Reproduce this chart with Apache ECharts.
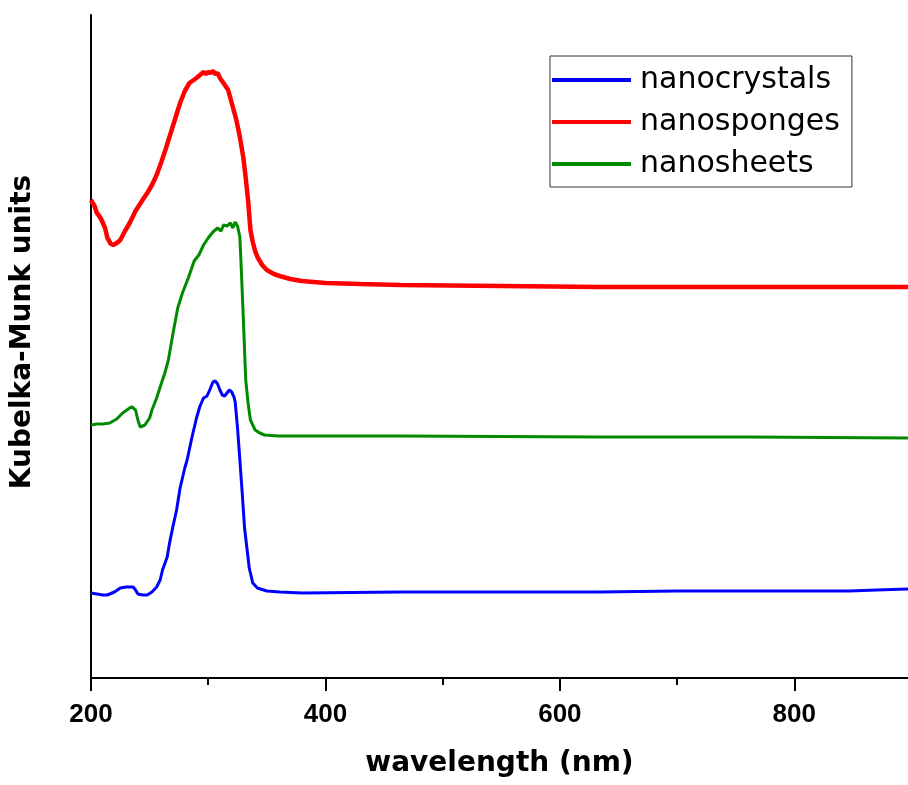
<!DOCTYPE html>
<html>
<head>
<meta charset="utf-8">
<script src="https://cdn.jsdelivr.net/npm/echarts@6/dist/echarts.min.js"></script>
<style>
html,body{margin:0;padding:0;background:#fff;overflow:hidden;}
#chart{width:908px;height:785px;}
</style>
</head>
<body>
<div id="chart"></div>
<script>
// x tick values (nm)
const xTicks = [200, 400, 600, 800];
const xMinorTicks = [300, 500, 700];
const seriesNames = ['nanocrystals', 'nanosponges', 'nanosheets'];

// [wavelength (nm), Kubelka-Munk (arbitrary, offset per curve)]
const nanocrystals = [[200,85],[205,84],[210,83],[214,83],[220,86],[225,90],[230,91],[236,91],[238,88],[240,84],[244,83],[248,83],[252,86],[256,91],[259,98],[261,108],[265,121],[267,135],[270,152],[273,168],[276,190],[280,210],[282,218],[286,240],[290,260],[293,272],[296,280],[299,282],[302,290],[304,296],[306,297],[308,294],[310,288],[312,283],[314,282],[316,285],[318,288],[320,286],[322,281],[323,276],[325,250],[327,218],[329,185],[331,150],[333,130],[335,110],[338,95],[342,90],[350,87],[361,86],[380,85],[464,86],[550,86],[634,86],[700,87],[762,87],[847,87],[870,88],[897,89]];

const nanosponges = [[200,478],[201,478],[203,472],[205,465],[207,462],[209,458],[212,450],[214,440],[217,434],[219,433],[222,435],[225,438],[229,447],[233,455],[238,467],[244,478],[248,485],[252,493],[256,503],[260,516],[264,530],[268,545],[272,560],[276,575],[280,587],[284,595],[290,600],[293,603],[296,606],[298,604],[300,606],[302,605],[304,607],[306,604],[308,605],[310,600],[313,595],[317,588],[321,571],[324,558],[327,541],[330,520],[332,500],[334,478],[336,448],[338,436],[340,427],[342,421],[346,413],[350,408],[356,404],[361,402],[370,399],[380,397],[400,395],[430,394],[464,393],[550,392],[634,391],[760,391],[897,391]];

const nanosheets = [[200,253],[205,254],[210,254],[216,255],[222,259],[227,265],[233,270],[235,271],[238,268],[240,258],[242,251],[246,253],[250,260],[252,268],[256,280],[259,291],[263,305],[266,318],[270,345],[274,370],[278,385],[283,400],[288,417],[292,423],[296,433],[300,440],[304,446],[308,450],[311,447],[313,453],[316,452],[319,455],[321,450],[323,456],[325,452],[327,441],[328,415],[330,358],[332,298],[334,275],[336,258],[340,248],[344,245],[348,243],[360,242],[378,242],[464,242],[634,241],[760,241],[897,240]];

const colors = ['#0000ff', '#ff0000', '#008a00'];
const widths = [3, 4.5, 3];

const chart = echarts.init(document.getElementById('chart'), null, {renderer: 'canvas'});
const dataList = [nanocrystals, nanosponges, nanosheets];

chart.setOption({
  animation: false,
  backgroundColor: '#ffffff',
  grid: {left: 91, top: 15, right: 0, bottom: 107, containLabel: false},
  legend: {
    orient: 'vertical',
    left: 550,
    top: 56,
    data: seriesNames,
    icon: 'rect',
    itemWidth: 79,
    itemHeight: 4,
    itemGap: 12,
    padding: [9, 12, 8, 2],
    borderColor: '#333333',
    borderWidth: 1,
    textStyle: {fontFamily: 'DejaVu Sans', fontSize: 30, color: '#000', lineHeight: 30, padding: [0, 0, 0, 4]}
  },
  xAxis: [{
    type: 'value',
    min: 200,
    max: 897,
    interval: 200,
    position: 'bottom',
    name: 'wavelength (nm)',
    nameLocation: 'middle',
    nameGap: 72,
    nameTextStyle: {fontFamily: 'DejaVu Sans', fontWeight: 'bold', fontSize: 28, color: '#000'},
    axisLine: {onZero: false, lineStyle: {color: '#000', width: 2}},
    axisTick: {show: true, length: 13, customValues: xTicks, lineStyle: {color: '#000', width: 2}},
    axisLabel: {
      margin: 24,
      customValues: xTicks,
      fontFamily: 'Liberation Sans', fontWeight: 'bold', fontSize: 26, color: '#000'
    },
    splitLine: {show: false}
  }, {
    type: 'value',
    min: 200,
    max: 897,
    interval: 200,
    position: 'bottom',
    offset: 0,
    axisLine: {show: false, onZero: false},
    axisTick: {show: true, length: 7, customValues: xMinorTicks, lineStyle: {color: '#000', width: 2}},
    axisLabel: {show: false},
    splitLine: {show: false}
  }],
  yAxis: {
    type: 'value',
    min: 0,
    max: 663,
    axisLine: {show: true, onZero: false, lineStyle: {color: '#000', width: 2}},
    axisTick: {show: false},
    axisLabel: {show: false},
    splitLine: {show: false}
  },
  graphic: [{
    type: 'text',
    x: 23,
    y: 332,
    rotation: Math.PI / 2,
    style: {
      text: 'Kubelka-Munk units',
      fontFamily: 'DejaVu Sans',
      fontWeight: 'bold',
      fontSize: 28,
      fill: '#000',
      align: 'center',
      verticalAlign: 'middle'
    }
  }],
  series: seriesNames.map((n, i) => ({
    name: n,
    type: 'line',
    xAxisIndex: 0,
    data: dataList[i],
    showSymbol: false,
    symbol: 'none',
    color: colors[i],
    lineStyle: {color: colors[i], width: widths[i]},
    clip: true
  }))
});
</script>
</body>
</html>
